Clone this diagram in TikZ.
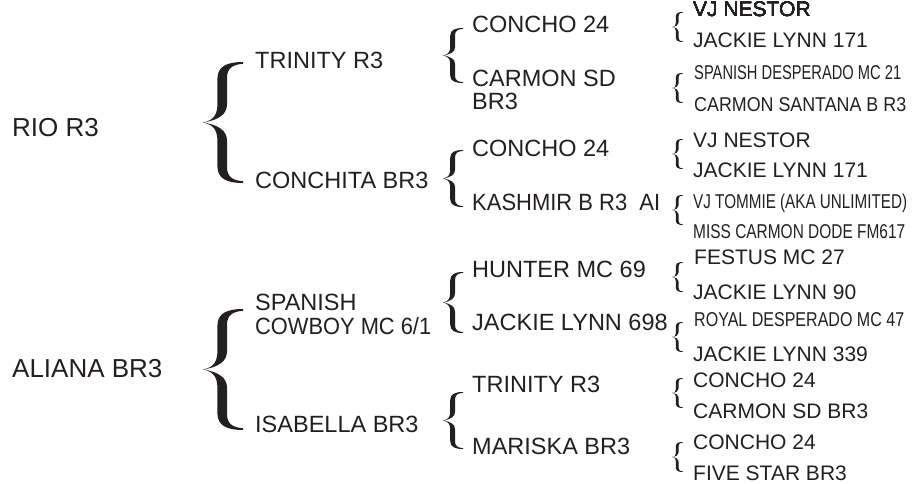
\documentclass[tikz,border=0pt]{standalone}
\usepackage{fontspec}
\setmainfont{Liberation Sans}
\usepackage{graphicx}
\usepackage{tikz}
\definecolor{ped-ink}{HTML}{231F20}

% curly brace: tip x, tip y, width, half height
\newcommand{\curly}[4]{%
    \fill[ped-ink, shift={(#1,#2)}, xscale=#3, yscale=#4]
        (0,0) .. controls (0.3,-0.04) and (0.36,-0.15) .. (0.36,-0.32)
        -- (0.36,-0.72) .. controls (0.36,-0.93) and (0.6,-1) .. (1,-1)
        -- (1,-0.97) .. controls (0.75,-0.96) and (0.6,-0.9) .. (0.6,-0.74)
        -- (0.6,-0.3) .. controls (0.6,-0.14) and (0.4,-0.04) .. (0,0)
        .. controls (0.4,0.04) and (0.6,0.14) .. (0.6,0.3)
        -- (0.6,0.74) .. controls (0.6,0.9) and (0.75,0.96) .. (1,0.97)
        -- (1,1) .. controls (0.6,1) and (0.36,0.93) .. (0.36,0.72)
        -- (0.36,0.32) .. controls (0.36,0.15) and (0.3,0.04) .. (0,0) -- cycle;}
\newcommand{\narrow}[2]{\resizebox{#1}{\height}{#2}}

\tikzset{
    gen-one/.style={anchor=base west, inner sep=0pt, text=ped-ink, font=\fontsize{26}{28}\selectfont},
    gen-two/.style={anchor=base west, inner sep=0pt, text=ped-ink, align=left, font=\fontsize{23.5}{23.5}\selectfont},
    gen-three/.style={gen-two},
    gen-four/.style={anchor=base west, inner sep=0pt, text=ped-ink, font=\fontsize{21}{22}\selectfont},
    gen-narrow/.style={gen-four, font=\fontsize{20}{22}\selectfont}
}

\begin{document}
\begin{tikzpicture}[x=1pt, y=-1pt]
    \useasboundingbox (0,0) rectangle (921,484);
    % Horses
    \node[gen-one] (rio) at (12,137) {RIO R3};
    \node[gen-one] (aliana) at (12,377) {ALIANA BR3};
    % Parents (base of a two-line node is its last line)
    \curly{203}{122.5}{40}{60.5}
    \curly{203}{369.5}{40}{60.5}
    \node[gen-two] (trinity) at (255,69) {TRINITY R3};
    \node[gen-two] (conchita) at (255,188) {CONCHITA BR3};
    \node[gen-two] (cowboy) at (255,334) {SPANISH\\\narrow{176pt}{COWBOY MC 6/1}};
    \node[gen-two] (isabella) at (255,432) {ISABELLA BR3};
    % Grandparents
    \curly{443}{55.5}{20}{27.5}
    \curly{443}{178.5}{20}{28.5}
    \curly{443}{302.5}{20}{30.5}
    \curly{443}{420.5}{20}{28.5}
    \node[gen-three] (concho-a) at (472,33) {CONCHO 24};
    \node[gen-three] (carmon-sd) at (472,110) {CARMON SD\\BR3};
    \node[gen-three] (concho-b) at (472,157) {CONCHO 24};
    \node[gen-three] (kashmir) at (472,211) {\narrow{188pt}{KASHMIR B R3~~AI}};
    \node[gen-three] (hunter) at (472,277) {HUNTER MC 69};
    \node[gen-three] (jackie-698) at (472,330) {JACKIE LYNN 698};
    \node[gen-three] (trinity-b) at (472,392) {TRINITY R3};
    \node[gen-three] (mariska) at (472,454) {MARISKA BR3};
    % Great-grandparents
    \foreach \yb in {27,88,154,210,277,337,393,457}
        \curly{672}{\yb}{11}{15}
    \node[gen-four] (nestor-a) at (693,17) {VJ NESTOR};
    \node[gen-four] (jl-171-a) at (693,48) {JACKIE LYNN 171};
    \node[gen-narrow] (desperado) at (694,80) {\narrow{207pt}{SPANISH DESPERADO MC 21}};
    \node[gen-narrow] (santana) at (694,112) {\narrow{212pt}{CARMON SANTANA B R3}};
    \node[gen-four] (nestor-b) at (693,147) {VJ NESTOR};
    \node[gen-four] (jl-171-b) at (693,178) {JACKIE LYNN 171};
    \node[gen-narrow] (tommie) at (693,208) {\narrow{214pt}{VJ TOMMIE (AKA UNLIMITED)}};
    \node[gen-narrow] (dode) at (693,238) {\narrow{212pt}{MISS CARMON DODE FM617}};
    \node[gen-four] (festus) at (694,264) {FESTUS MC 27};
    \node[gen-four] (jl-90) at (693,299) {JACKIE LYNN 90};
    \node[gen-narrow] (royal) at (694,326) {\narrow{210pt}{ROYAL DESPERADO MC 47}};
    \node[gen-four] (jl-339) at (693,361) {JACKIE LYNN 339};
    \node[gen-four] (concho-c) at (693,387) {CONCHO 24};
    \node[gen-four] (carmon-sd-b) at (693,418) {CARMON SD BR3};
    \node[gen-four] (concho-d) at (693,449) {CONCHO 24};
    \node[gen-four] (five-star) at (693,480) {FIVE STAR BR3};
\end{tikzpicture}
\end{document}
